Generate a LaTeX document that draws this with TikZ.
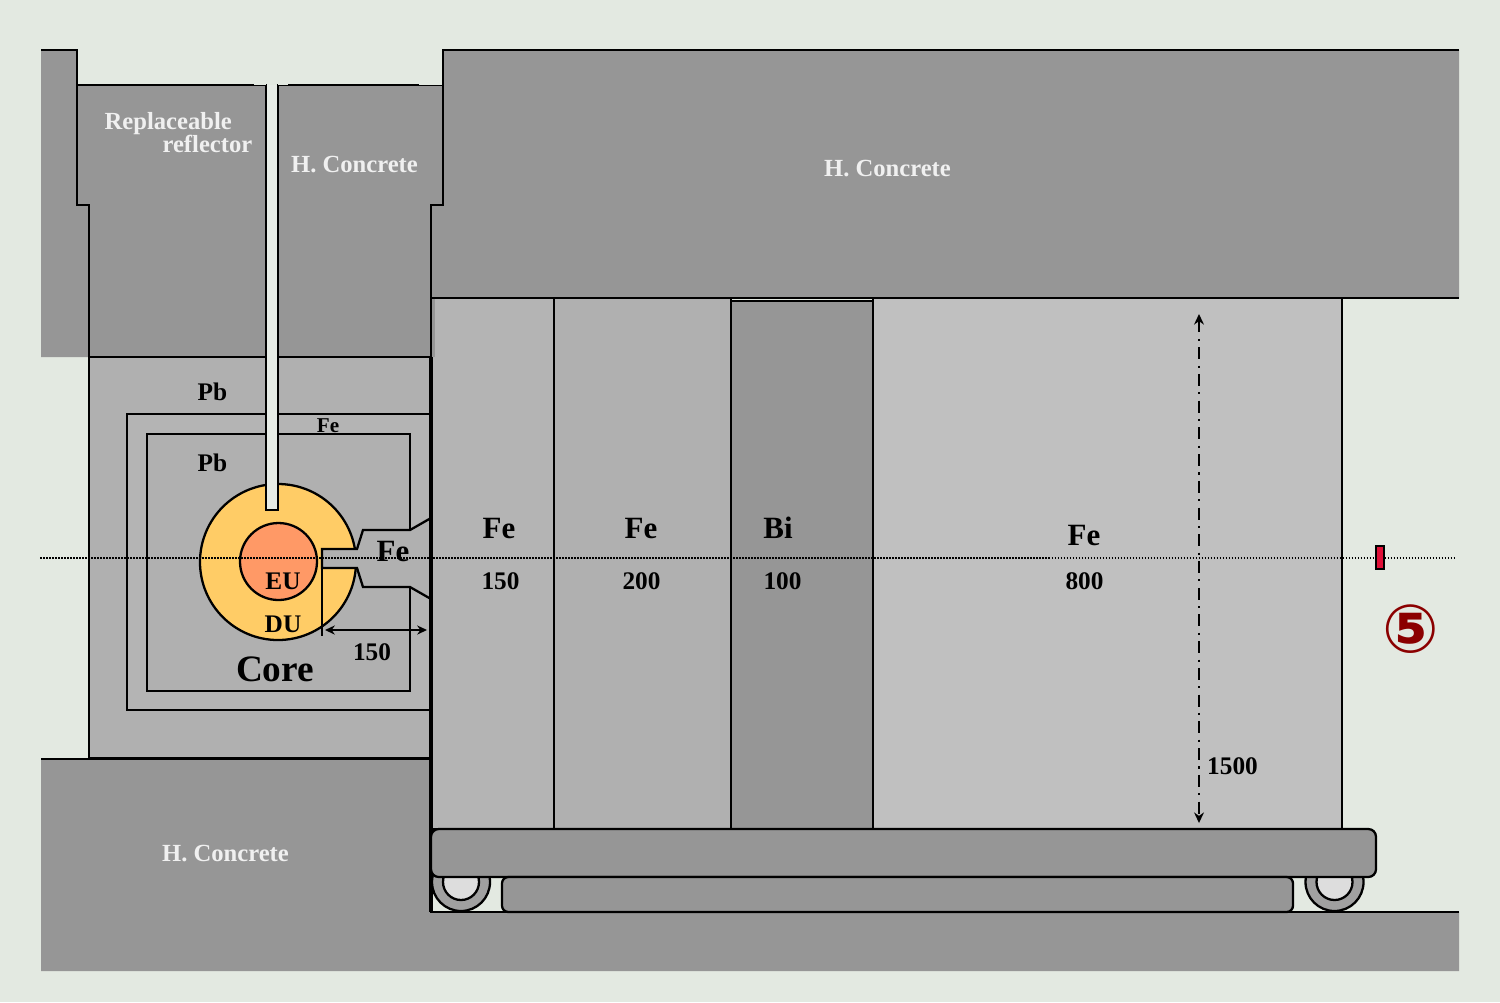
\documentclass[tikz,border=0pt]{standalone}
\usepackage{fontspec}
\setmainfont{Liberation Serif}
\newfontfamily\markfont{DejaVu Sans}
\usetikzlibrary{arrows.meta}
\definecolor{Bg}{RGB}{227, 233, 225}
\definecolor{Conc}{RGB}{150, 150, 150}
\definecolor{PbC}{RGB}{176, 176, 176}
\definecolor{FeA}{RGB}{180, 180, 180}
\definecolor{FeB}{RGB}{192, 192, 192}
\definecolor{DU}{RGB}{255, 204, 102}
\definecolor{EU}{RGB}{255, 153, 102}
\definecolor{Wheel}{RGB}{160, 160, 160}
\definecolor{Hub}{RGB}{221, 221, 221}
\definecolor{Det}{RGB}{224, 16, 56}
\definecolor{Num}{RGB}{139, 0, 0}
\tikzset{
  wall/.style={draw=black, line width=0.65pt},
  lbl/.style={font=\fontsize{7.2}{8}\selectfont\bfseries, inner sep=0pt},
  lblw/.style={lbl, font=\fontsize{7}{8}\selectfont\bfseries, text=white!94!black},
  big/.style={font=\fontsize{8.8}{10}\selectfont\bfseries, inner sep=0pt},
}

\begin{document}
\begin{tikzpicture}[x=0.01cm, y=-0.01cm]
  \fill[Bg] (0,0) rectangle (1500,1002);
  \useasboundingbox (0,0) rectangle (1500,1002);
  % concrete at the top
  \fill[Conc] (41,50) -- (77,50) -- (77,205) -- (89,205) -- (89,357) -- (41,357) -- cycle;
  \draw[wall] (41,50) -- (77,50) -- (77,85);
  \draw[wall, fill=Conc] (266,85) -- (77,85) -- (77,205) -- (89,205) -- (89,357) -- (266,357) -- cycle;
  \draw[wall, fill=Conc] (278,85) -- (443,85) -- (443,205) -- (431,205) -- (431,357) -- (278,357) -- cycle;
  \fill[Conc] (443,50) -- (1459,50) -- (1459,298) -- (431,298) -- (431,205) -- (443,205) -- cycle;
  \draw[wall] (1459,50) -- (443,50) -- (443,205) -- (431,205) -- (431,298) -- (1459,298);
  \foreach \ga/\gb in {254/266, 278/288, 419/442} {
    \fill[Bg] (\ga,83) rectangle (\gb,85);
  }
  % shield around the core
  \draw[wall, fill=PbC] (89,357) rectangle (431,758);
  \draw[wall, fill=FeA] (127,414) rectangle (431,710);
  \draw[wall, fill=PbC] (147,434) rectangle (410,691);
  \draw[wall, fill=DU] (278,562) circle[radius=78];
  \draw[wall, fill=EU] (278.5,561.5) circle[radius=38.5];
  \draw[wall, fill=PbC] (431,518) -- (410,530) -- (363,530) -- (357,549) -- (322,549) -- (322,568) -- (357,568) -- (363,587) -- (410,587) -- (431,599);
  \draw[wall, fill=Bg!85!white] (266,85) -- (266,510) -- (278,510) -- (278,85);
  \draw[wall] (322,568) -- (322,636);
  \draw[line width=0.55pt, {Stealth[length=2.8pt, width=2.6pt]}-{Stealth[length=2.8pt, width=2.6pt]}] (325,630) -- (427,630);
  % layers on the cart
  \draw[wall, fill=FeA] (431,298) rectangle (554,829);
  \fill[Conc] (432,299) rectangle (435,357);
  \draw[wall, fill=PbC] (554,298) rectangle (731,829);
  \draw[wall, fill=Conc] (731,301) rectangle (873,829);
  \draw[wall, fill=FeB] (873,298) rectangle (1342,829);
  \draw[line width=0.6pt, dash pattern=on 3.4pt off 1.8pt on 0.6pt off 1.8pt, {Stealth[length=3pt, width=2.8pt]}-{Stealth[length=3pt, width=2.8pt]}] (1199,314) -- (1199,823);
  % floor
  \fill[Conc] (41,759) -- (431,759) -- (431,912) -- (1459,912) -- (1459,971) -- (41,971) -- cycle;
  \draw[wall, line width=0.7pt] (41,759) -- (431,759) -- (431,912) -- (1459,912);
  \draw[line width=0.9pt] (431,357) -- (431,912);
  \foreach \wx in {461,1334.5} {
    \draw[wall, fill=Wheel] (\wx,882) circle[radius=29];
    \draw[wall, fill=Hub] (\wx,882) circle[radius=18];
  }
  \draw[wall, fill=Conc, rounded corners=2.2pt] (431,829) rectangle (1376,877);
  \draw[wall, fill=Conc, rounded corners=1.8pt] (502,877) rectangle (1293,912);
  \draw[line width=0.35pt, dash pattern=on 0.45pt off 0.4035pt] (40,558) -- (1456,558);
  \draw[line width=0.65pt, fill=Det] (1376,546) rectangle (1384,569);
  % labels
  \node[lblw, anchor=west] (replaceable) at (104,124) {Replaceable};
  \node[lblw, anchor=east] (reflector) at (253,144) {reflector};
  \node[lblw] (concretea) at (354.5,165) {H. Concrete};
  \node[lblw] (concreteb) at (887.5,169) {H. Concrete};
  \node[lblw] (concretec) at (225.5,854) {H. Concrete};
  \node[lbl] (pba) at (212.5,392) {Pb};
  \node[lbl] (pbb) at (212.5,463) {Pb};
  \node[lbl, font=\fontsize{6}{7}\selectfont\bfseries] (fesmall) at (328,426) {Fe};
  \node[lbl] (eu) at (283,581) {EU};
  \node[lbl] (du) at (283,624) {DU};
  \node[lbl] (gap) at (372,652) {150};
  \node[big] (feplug) at (393,551) {Fe};
  \node[inner sep=0pt, font=\fontsize{10.6}{12}\selectfont\bfseries] (core) at (275,669) {Core};
  \node[big] (fea) at (499,528) {Fe};
  \node[big] (feb) at (641,528) {Fe};
  \node[big] (bi) at (778,528) {Bi};
  \node[big] (fec) at (1084,535) {Fe};
  \node[lbl] (tha) at (500.5,581) {150};
  \node[lbl] (thb) at (641.5,581) {200};
  \node[lbl] (thc) at (782.5,581) {100};
  \node[lbl] (thd) at (1084.5,581) {800};
  \node[lbl] (height) at (1232.5,766) {1500};
  \node[inner sep=0pt, text=Num, font=\markfont\fontsize{19}{20}\selectfont\bfseries] (pos) at (1410.5,629) {⑤};
\end{tikzpicture}
\end{document}
